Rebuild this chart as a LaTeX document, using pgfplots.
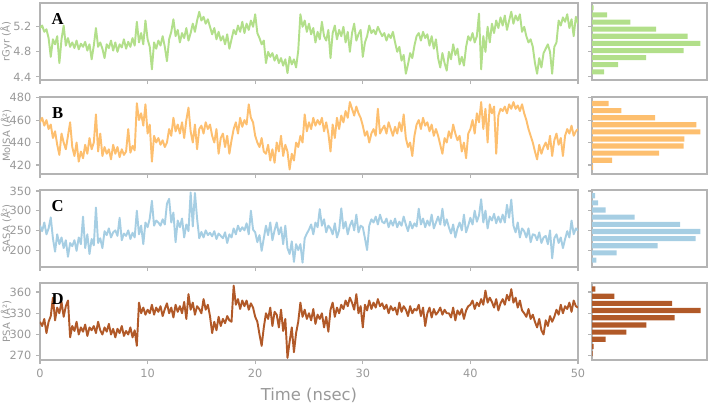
\documentclass[border=0pt]{standalone}
\usepackage{fontspec}
\setmainfont{DejaVu Sans}
\newfontfamily\tnr{Liberation Serif}
\usepackage{pgfplots}
\pgfplotsset{compat=1.18}
\definecolor{cA}{HTML}{B2DF8A}
\definecolor{cB}{HTML}{FDBF6F}
\definecolor{cC}{HTML}{A6CEE3}
\definecolor{cD}{HTML}{B15928}
\definecolor{framegray}{HTML}{B4B4B4}
\definecolor{txtgray}{HTML}{999999}
\tikzset{plab/.style={font=\tnr\bfseries\fontsize{12.5}{13}\selectfont, text=black}}
\pgfplotsset{
  base/.style={scale only axis, height=57.75pt, anchor=north west,
    axis line style={draw=framegray, line width=0.8pt},
    tick style={draw=framegray, line width=0.8pt},
    tick align=outside, major tick length=3pt,
    ticklabel style={text=txtgray, font=\fontsize{8.5}{9}\selectfont},
    /pgf/number format/assume math mode=true,
    ytick pos=left},
  mainax/.style={base, width=403.5pt, xmin=0, xmax=50, xtick={0,10,20,30,40,50},
    xtick pos=bottom, xticklabels={},
    ylabel style={at={(axis description cs:-0.063,0.5)}, anchor=center, text=txtgray, font=\fontsize{7.5}{9}\selectfont}},
  histax/.style={base, width=86.25pt, xmin=0, xmax=345, xtick=\empty, yticklabels={}},
  ln/.style={line width=1.45pt, line join=round},
  hb/.style={xbar, draw=none}
}
\begin{document}
\begin{tikzpicture}
\path[use as bounding box] (0pt,0pt) rectangle (531pt,-303.75pt);
% ---------------- A ----------------
\begin{axis}[mainax, at={(30pt,-2.25pt)}, ymin=4.35, ymax=5.58, ytick={4.4,4.8,5.2},
  yticklabel style={/pgf/number format/.cd, fixed, fixed zerofill, precision=1}, ylabel={rGyr (Å)}]
\addplot[ln, cA] table[x expr=\coordindex*0.2, y index=0, header=false, row sep=\\] {
5.18\\5.22\\5.12\\5.16\\5.02\\
4.72\\5.00\\4.92\\5.05\\4.62\\
5.00\\5.22\\4.90\\5.02\\4.88\\
4.95\\4.86\\4.98\\4.84\\4.93\\
4.88\\4.96\\4.82\\4.92\\4.68\\
4.90\\5.18\\4.88\\4.95\\4.85\\
4.70\\4.92\\4.86\\4.98\\4.82\\
4.95\\4.80\\4.92\\4.87\\5.00\\
4.85\\4.96\\4.88\\5.02\\4.90\\
5.28\\4.95\\5.10\\4.92\\5.30\\
5.00\\4.88\\4.52\\4.95\\4.85\\
4.98\\4.90\\5.05\\4.88\\4.65\\
5.00\\5.12\\5.32\\5.05\\5.15\\
4.95\\5.10\\5.02\\5.18\\4.98\\
5.10\\5.25\\5.12\\5.30\\5.44\\
5.30\\5.36\\5.25\\5.32\\5.20\\
5.08\\5.18\\5.00\\5.12\\4.98\\
5.05\\4.92\\5.08\\4.85\\5.00\\
5.15\\5.08\\5.22\\5.12\\5.28\\
5.10\\5.25\\5.15\\5.30\\5.20\\
5.40\\5.10\\5.02\\4.92\\4.98\\
4.62\\4.80\\4.72\\4.78\\4.66\\
4.75\\4.62\\4.70\\4.58\\4.68\\
4.46\\4.72\\4.60\\4.68\\4.55\\
4.82\\5.40\\5.20\\5.30\\5.12\\
5.25\\5.08\\5.18\\4.95\\5.12\\
5.00\\5.28\\5.05\\4.98\\5.15\\
4.70\\5.10\\5.22\\5.00\\5.15\\
5.05\\5.20\\4.95\\5.12\\4.80\\
5.10\\5.25\\4.98\\5.08\\5.15\\
4.72\\4.95\\5.05\\5.22\\5.10\\
5.15\\5.08\\5.20\\5.12\\5.05\\
5.10\\4.98\\5.08\\5.02\\5.12\\
4.95\\4.80\\4.88\\4.66\\4.75\\
4.45\\4.60\\4.78\\4.70\\4.90\\
5.05\\5.10\\4.98\\5.12\\5.02\\
5.08\\4.90\\5.05\\4.85\\5.00\\
4.70\\4.55\\4.78\\4.62\\4.50\\
4.80\\4.68\\4.92\\4.75\\4.85\\
4.60\\4.72\\4.58\\4.88\\5.05\\
4.98\\5.10\\4.95\\5.05\\5.41\\
4.52\\5.05\\4.80\\5.20\\4.95\\
5.25\\5.10\\5.30\\5.18\\5.35\\
5.22\\5.38\\5.15\\5.30\\5.44\\
5.25\\5.38\\5.30\\5.40\\5.12\\
5.20\\5.05\\4.95\\5.00\\4.88\\
4.62\\4.45\\4.70\\4.55\\4.78\\
4.85\\4.92\\4.80\\4.45\\4.88\\
4.95\\5.30\\5.22\\5.35\\5.28\\
5.40\\5.18\\5.32\\5.05\\5.36\\
5.25\\
};
\node[plab] at (rel axis cs:0.033,0.79) {A};
\end{axis}
\begin{axis}[histax, at={(444pt,-2.25pt)}, ymin=4.35, ymax=5.58, ytick={4.4,4.8,5.2}]
\addplot[hb, fill=cA, bar width=0.08] coordinates {
(5,5.504) (45,5.390) (115,5.276) (192,5.163) (287,5.049) (325,4.935) (275,4.821) (162,4.707) (78,4.594) (36,4.480)};
\end{axis}
% ---------------- B ----------------
\begin{axis}[mainax, at={(30pt,-72.75pt)}, ymin=412, ymax=480.5, ytick={420,440,460,480}, ylabel={MolSA (Å²)}]
\addplot[ln, cB] table[x expr=\coordindex*0.2, y index=0, header=false, row sep=\\] {
458\\462\\455\\460\\452\\
456\\444\\450\\438\\429\\
448\\440\\434\\446\\458\\
436\\428\\440\\423\\432\\
426\\438\\430\\444\\434\\
440\\465\\432\\448\\428\\
436\\430\\434\\425\\438\\
430\\436\\427\\434\\429\\
432\\452\\431\\437\\433\\
475\\460\\466\\455\\474\\
448\\456\\423\\446\\440\\
444\\438\\442\\436\\440\\
452\\446\\462\\450\\456\\
448\\458\\444\\460\\471\\
450\\440\\456\\434\\452\\
455\\448\\458\\452\\456\\
446\\440\\452\\430\\444\\
448\\436\\446\\430\\442\\
452\\458\\448\\462\\454\\
460\\456\\474\\462\\458\\
446\\440\\436\\444\\432\\
430\\438\\424\\434\\422\\
440\\432\\446\\428\\438\\
432\\416\\430\\424\\440\\
436\\446\\440\\465\\450\\
458\\452\\462\\455\\460\\
456\\462\\450\\458\\448\\
432\\456\\444\\462\\452\\
464\\458\\468\\462\\476\\
470\\464\\472\\466\\462\\
455\\446\\450\\440\\448\\
452\\446\\470\\448\\452\\
455\\448\\458\\452\\446\\
454\\448\\458\\450\\465\\
444\\436\\440\\428\\446\\
456\\460\\452\\462\\455\\
458\\450\\456\\446\\452\\
446\\438\\430\\444\\440\\
450\\444\\456\\448\\442\\
446\\432\\440\\426\\448\\
452\\460\\448\\466\\458\\
476\\452\\470\\440\\474\\
466\\472\\430\\464\\470\\
468\\472\\466\\474\\470\\
476\\470\\473\\468\\474\\
466\\460\\452\\446\\440\\
432\\425\\438\\430\\436\\
440\\434\\446\\428\\442\\
448\\438\\444\\428\\446\\
452\\448\\455\\446\\450\\
452\\
};
\node[plab] at (rel axis cs:0.033,0.79) {B};
\end{axis}
\begin{axis}[histax, at={(444pt,-72.75pt)}, ymin=412, ymax=480.5, ytick={420,440,460,480}]
\addplot[hb, fill=cB, bar width=4.6] coordinates {
(50,474.7) (88,468.4) (189,462.1) (313,455.8) (325,449.5) (277,443.2) (275,436.9) (201,430.6) (60,424.3) (3,418.0)};
\end{axis}
% ---------------- C ----------------
\begin{axis}[mainax, at={(30pt,-142.5pt)}, ymin=157, ymax=352.5, ytick={200,250,300,350}, ylabel={SASA (Å²)}]
\addplot[ln, cC] table[x expr=\coordindex*0.2, y index=0, header=false, row sep=\\] {
262\\248\\270\\240\\255\\
283\\230\\196\\240\\215\\
232\\205\\225\\183\\218\\
210\\225\\198\\232\\215\\
285\\205\\240\\190\\228\\
212\\308\\218\\230\\205\\
248\\238\\255\\232\\245\\
250\\236\\282\\225\\242\\
236\\250\\228\\244\\232\\
300\\240\\262\\215\\270\\
258\\280\\325\\262\\275\\
270\\262\\278\\265\\318\\
330\\270\\295\\220\\275\\
258\\280\\232\\265\\248\\
346\\260\\345\\280\\230\\
246\\232\\250\\238\\244\\
235\\248\\228\\242\\236\\
230\\245\\218\\240\\232\\
255\\240\\262\\248\\258\\
250\\268\\240\\300\\252\\
245\\220\\238\\198\\230\\
262\\238\\270\\225\\250\\
270\\240\\258\\215\\262\\
205\\190\\222\\170\\215\\
200\\215\\168\\230\\242\\
252\\265\\240\\270\\258\\
304\\262\\278\\245\\262\\
255\\240\\268\\232\\250\\
306\\255\\272\\240\\262\\
275\\250\\290\\245\\262\\
258\\230\\200\\262\\278\\
270\\285\\265\\290\\272\\
268\\280\\258\\275\\262\\
280\\258\\272\\262\\285\\
265\\248\\272\\255\\268\\
260\\305\\265\\280\\258\\
275\\262\\290\\255\\270\\
285\\265\\305\\262\\278\\
258\\242\\265\\232\\255\\
270\\250\\290\\245\\262\\
282\\265\\300\\272\\288\\
329\\270\\300\\255\\285\\
275\\292\\268\\285\\270\\
290\\270\\315\\282\\328\\
262\\245\\270\\232\\255\\
248\\232\\255\\220\\240\\
238\\225\\245\\218\\232\\
236\\215\\250\\179\\230\\
240\\218\\232\\205\\228\\
248\\232\\275\\240\\255\\
250\\
};
\node[plab] at (rel axis cs:0.033,0.79) {C};
\end{axis}
\begin{axis}[histax, at={(444pt,-142.5pt)}, ymin=157, ymax=352.5, ytick={200,250,300,350}]
\addplot[hb, fill=cC, bar width=13] coordinates {
(9,338) (18,319.8) (41,301.7) (128,283.6) (264,265.4) (325,247.3) (311,229.1) (197,211) (74,192.8) (13,174.6)};
\end{axis}
% ---------------- D ----------------
\begin{axis}[mainax, at={(30pt,-212.25pt)}, ymin=264, ymax=372.7, ytick={270,300,330,360}, ylabel={PSA (Å²)},
  xticklabels={0,10,20,30,40,50}, xlabel={Time (nsec)},
  xlabel style={at={(axis description cs:0.5,0)}, anchor=center, yshift=-26.25pt, text=txtgray, font=\fontsize{12.3}{14}\selectfont}]
\addplot[ln, cD] table[x expr=\coordindex*0.2, y index=0, header=false, row sep=\\] {
318\\312\\322\\302\\318\\
326\\352\\320\\338\\330\\
346\\325\\340\\348\\296\\
312\\305\\318\\300\\310\\
304\\314\\298\\310\\306\\
312\\302\\318\\306\\300\\
310\\304\\315\\300\\308\\
296\\308\\302\\312\\298\\
305\\300\\310\\296\\306\\
284\\345\\330\\338\\328\\
335\\330\\342\\328\\338\\
332\\340\\326\\336\\344\\
330\\338\\324\\342\\332\\
340\\330\\346\\322\\357\\
335\\345\\328\\340\\336\\
330\\350\\335\\342\\326\\
302\\318\\306\\325\\312\\
322\\316\\326\\320\\318\\
369\\342\\350\\336\\348\\
340\\348\\335\\344\\338\\
325\\318\\300\\284\\310\\
330\\322\\338\\312\\332\\
328\\310\\335\\305\\322\\
267\\290\\310\\275\\302\\
318\\345\\325\\335\\322\\
330\\320\\336\\315\\328\\
322\\330\\310\\325\\304\\
335\\345\\325\\338\\330\\
342\\336\\348\\340\\352\\
345\\335\\357\\330\\340\\
310\\342\\334\\348\\336\\
345\\338\\350\\340\\344\\
336\\342\\330\\340\\334\\
338\\328\\345\\332\\340\\
335\\326\\340\\330\\336\\
334\\342\\326\\338\\312\\
330\\338\\324\\336\\328\\
332\\338\\328\\335\\330\\
330\\324\\338\\320\\334\\
328\\336\\322\\334\\340\\
342\\348\\336\\345\\340\\
350\\342\\362\\345\\352\\
346\\338\\350\\334\\344\\
350\\342\\356\\348\\364\\
345\\352\\338\\348\\334\\
330\\325\\336\\322\\328\\
318\\310\\322\\306\\300\\
320\\312\\326\\318\\325\\
335\\328\\342\\330\\340\\
336\\345\\332\\348\\340\\
338\\
};
\node[plab] at (rel axis cs:0.033,0.79) {D};
\end{axis}
\begin{axis}[histax, at={(444pt,-212.25pt)}, ymin=264, ymax=372.7, ytick={270,300,330,360}]
\addplot[hb, fill=cD, bar width=7.3] coordinates {
(10,364.2) (67,354.1) (240,343.9) (326,333.8) (248,323.7) (163,313.5) (103,303.4) (41,293.2) (5,283.1) (2,273.0)};
\end{axis}
\end{tikzpicture}
\end{document}
